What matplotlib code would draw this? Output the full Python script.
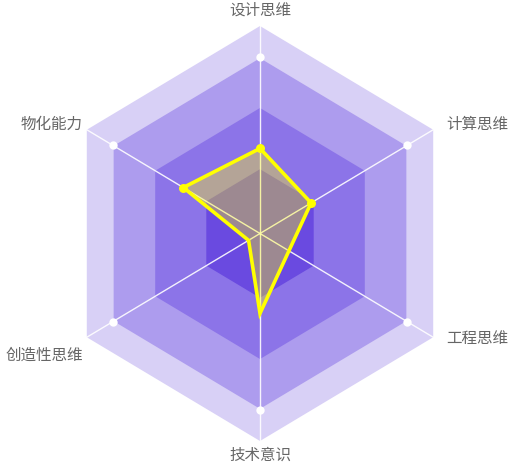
import numpy as np
import matplotlib
matplotlib.use("Agg")
import matplotlib.pyplot as plt
from matplotlib.patches import Polygon

plt.rcParams['font.family'] = ['Noto Sans CJK SC', 'DejaVu Sans']

# Axes (clockwise from top)
categories = ['设计思维', '计算思维', '工程思维', '技术意识', '创造性思维', '物化能力']
values = [0.41, 0.295, 0.167, 0.385, 0.066, 0.443]   # fraction of max
show_marker = [True, True, False, False, False, True]
ring_levels = [1.0, 0.845, 0.605, 0.31]
ring_colors = ['#d8d0f6', '#ad9cee', '#8c74e8', '#6a4ae0']
marker_level = 0.85

W, H = 514, 466
cx, cy = 260, 233.5
sx, sy = 200.0, 207.5

fig = plt.figure(figsize=(W / 100, H / 100), dpi=100)
ax = fig.add_axes([0, 0, 1, 1])
ax.set_xlim(-cx / sx, (W - cx) / sx)
ax.set_ylim(-(H - cy) / sy, cy / sy)
ax.axis('off')

n = len(categories)
angles = np.deg2rad(90 - np.arange(n) * 360 / n)
ux, uy = np.cos(angles), np.sin(angles)

for lvl, col in zip(ring_levels, ring_colors):
    ax.add_patch(Polygon(np.column_stack([lvl * ux, lvl * uy]), closed=True,
                         facecolor=col, edgecolor='none', zorder=1))

for x, y in zip(ux, uy):
    ax.plot([0, x], [0, y], color='white', lw=1.0, alpha=0.9, zorder=2)

ax.scatter(marker_level * ux, marker_level * uy, s=36, color='white', zorder=3,
           linewidths=0)

v = np.array(values)
px, py = v * ux, v * uy
ax.add_patch(Polygon(np.column_stack([px, py]), closed=True,
                     facecolor=(1, 1, 0, 0.35), edgecolor='#ffff00', lw=2.6,
                     joinstyle='miter', zorder=4))
m = np.array(show_marker)
ax.scatter(px[m], py[m], s=42, color='#ffff00', zorder=5, linewidths=0)

label_pos = [
    (260, 10.5, 'center'),
    (446, 124.5, 'left'),
    (446, 338.5, 'left'),
    (260, 455, 'center'),
    (83, 355.5, 'right'),
    (83, 124.5, 'right'),
]
for name, (lx, ly, ha) in zip(categories, label_pos):
    ax.text((lx - cx) / sx, (cy - ly) / sy, name, ha=ha, va='center',
            fontsize=11.2, color='#666666', zorder=6)

fig.savefig('out.png', dpi=100)
